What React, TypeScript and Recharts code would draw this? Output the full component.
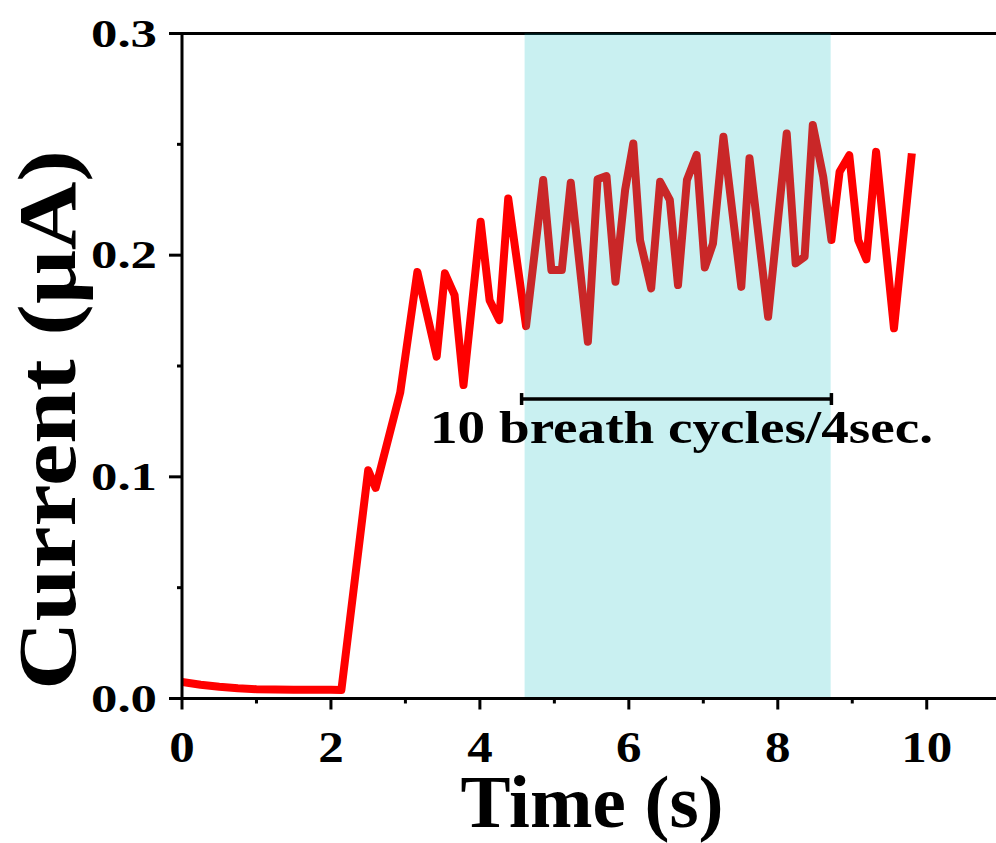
import React from "react";
import { LineChart, Line, XAxis, YAxis, ReferenceArea, ReferenceLine } from "recharts";

// time (s) and current (µA)
const time = [
    0, 0.25, 0.5, 0.75, 1.0, 1.5, 2.0, 2.14, 2.5, 2.6, 2.93, 3.16, 3.42, 3.53, 3.66, 3.78,
    4.01, 4.13, 4.26, 4.38, 4.62, 4.85, 4.96, 5.1, 5.22, 5.45, 5.58, 5.7, 5.82, 5.95, 6.06,
    6.15, 6.3, 6.42, 6.55, 6.66, 6.78, 6.91, 7.02, 7.13, 7.27, 7.51, 7.62, 7.87, 8.12, 8.24,
    8.36, 8.47, 8.61, 8.72, 8.83, 8.96, 9.08, 9.19, 9.32, 9.56, 9.8,
];
const current = [
    0.0075, 0.0062, 0.0053, 0.0046, 0.0042, 0.004, 0.004, 0.0038, 0.103, 0.095, 0.138, 0.1924, 0.1542, 0.1918, 0.182, 0.1414,
    0.2151, 0.1797, 0.1707, 0.2256, 0.168, 0.2339, 0.1933, 0.1933, 0.2327, 0.1609, 0.2342, 0.2357, 0.188, 0.2294, 0.2504,
    0.2068, 0.185, 0.2331, 0.2249, 0.1865, 0.2339, 0.2452, 0.1944, 0.2053, 0.2534, 0.1857, 0.2437, 0.1722, 0.2549, 0.1963,
    0.1993, 0.2587, 0.2354, 0.2068, 0.2376, 0.2451, 0.2068, 0.1981, 0.2466, 0.167, 0.2459,
];

const xTicks = [0, 1, 2, 3, 4, 5, 6, 7, 8, 9, 10];
const yTicks = [0, 0.05, 0.1, 0.15, 0.2, 0.25, 0.3];

const band = { from: 4.6, to: 8.71 };
const bar = { from: 4.56, to: 8.72, y: 0.1351 };

const data = time.map((t, i) => ({ t, c: current[i] }));

const txt = { fontFamily: "Liberation Serif", fontWeight: 700 } as const;

function YTick(props: any) {
    const { x, y, payload } = props;
    const v = payload.value;
    const major = Math.abs(v * 10 - Math.round(v * 10)) < 1e-6;
    return (
        <g>
            <line x1={x - (major ? 13 : 5)} x2={x} y1={y} y2={y} stroke="#000" strokeWidth={3} />
            {major && (
                <text x={x - 25} y={y} dy={13} textAnchor="end" fontSize={40} style={txt}
                    fill="#000" textLength={66} lengthAdjust="spacingAndGlyphs">
                    {v.toFixed(1)}
                </text>
            )}
        </g>
    );
}

function XTick(props: any) {
    const { x, y, payload } = props;
    const v = payload.value;
    const major = v % 2 === 0;
    const label = String(v);
    return (
        <g>
            <line x1={x} x2={x} y1={y} y2={y + (major ? 11 : 5)} stroke="#000" strokeWidth={3} />
            {major && (
                <text x={x} y={y + 63} textAnchor="middle" fontSize={44} style={txt} fill="#000"
                    textLength={label.length * 25.5} lengthAdjust="spacingAndGlyphs">
                    {label}
                </text>
            )}
        </g>
    );
}

export default function App() {
    return (
        <div style={{ position: "absolute", left: 0, top: 0, width: 996, height: 843, background: "#fff" }}>
            <LineChart width={996} height={843} data={data}
                margin={{ top: 33.5, right: 0, left: 0, bottom: 0 }}>
                <XAxis type="number" dataKey="t" domain={[0, 10.93]} ticks={xTicks} interval={0}
                    allowDataOverflow height={144.5}
                    axisLine={{ stroke: "#000", strokeWidth: 3 }} tickLine={false}
                    tickSize={0} tickMargin={0} tick={<XTick />} />
                <YAxis type="number" domain={[0, 0.3]} ticks={yTicks} interval={0} width={182}
                    axisLine={{ stroke: "#000", strokeWidth: 3 }} tickLine={false}
                    tickSize={0} tickMargin={0} tick={<YTick />} />
                <ReferenceLine y={0.3} stroke="#000" strokeWidth={3} ifOverflow="visible" />
                <Line type="linear" dataKey="c" stroke="#FF0000" strokeWidth={8}
                    strokeLinejoin="round" dot={false} isAnimationActive={false} />
                <ReferenceArea x1={band.from} x2={band.to} y1={0} y2={0.3}
                    fill="#00B9BE" fillOpacity={0.21} stroke="none" zIndex={450} />
                <ReferenceLine segment={[{ x: bar.from, y: bar.y }, { x: bar.to, y: bar.y }]}
                    stroke="#000" strokeWidth={3.5} zIndex={460} />
                <ReferenceLine segment={[{ x: bar.from, y: bar.y - 0.0027 }, { x: bar.from, y: bar.y + 0.0027 }]}
                    stroke="#000" strokeWidth={3.5} zIndex={460} />
                <ReferenceLine segment={[{ x: bar.to, y: bar.y - 0.0027 }, { x: bar.to, y: bar.y + 0.0027 }]}
                    stroke="#000" strokeWidth={3.5} zIndex={460} />
                <ReferenceLine segment={[{ x: 0, y: 0.12 }, { x: 0, y: 0.12 }]} stroke="none" zIndex={470}
                    label={() => (
                        <text x={681.5} y={443} textAnchor="middle" fontSize={47} style={txt}
                            fill="#000" textLength={503} lengthAdjust="spacingAndGlyphs">
                            10 breath cycles/4sec.
                        </text>
                    )} />
                <text x={592} y={827} textAnchor="middle" fontSize={75} style={txt} fill="#000">
                    Time (s)
                </text>
                <text x={75} y={420} textAnchor="middle" fontSize={82} style={txt}
                    fill="#000" transform="rotate(-90 75 420)"
                    textLength={540} lengthAdjust="spacingAndGlyphs">
                    Current (μA)
                </text>
            </LineChart>
        </div>
    );
}
